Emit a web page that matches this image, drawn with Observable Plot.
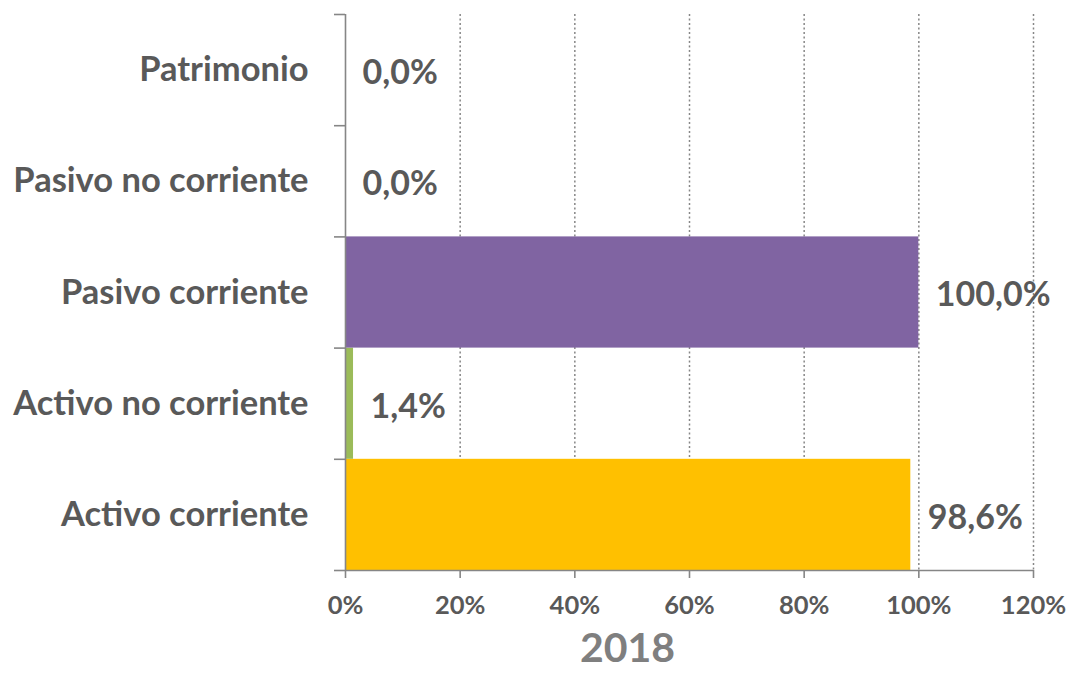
<!DOCTYPE html>
<html>
<head>
<meta charset="utf-8">
<script src="https://cdn.jsdelivr.net/npm/d3@7"></script>
<script src="https://cdn.jsdelivr.net/npm/@observablehq/plot@0.6"></script>
<style>
  html, body { margin: 0; padding: 0; background: #ffffff; }
  #chart { width: 1071px; height: 675px; }
</style>
</head>
<body>
<div id="chart"></div>
<script>
// Categories listed bottom to top
const categories = ["Activo corriente", "Activo no corriente", "Pasivo corriente", "Pasivo no corriente", "Patrimonio"];
const values = [98.6, 1.4, 100.0, 0.0, 0.0];
const barColors = ["#FFC000", "#9BBB59", "#8064A2", "#8064A2", "#8064A2"];
const xTicks = [0, 20, 40, 60, 80, 100, 120];
const yearLabel = "2018";

const data = categories.map((c, i) => ({category: c, index: i, value: values[i], color: barColors[i]}));
const boundaries = d3.range(0, categories.length + 1);
const centers = data.map(d => d.index + 0.5);

const textColor = "#595959";
const axisColor = "#868686";

const chart = Plot.plot({
  width: 1071,
  height: 675,
  marginLeft: 345,
  marginRight: 38,
  marginTop: 14,
  marginBottom: 105,
  x: {domain: [0, 120]},
  y: {domain: [0, categories.length]},
  color: {type: "identity"},
  style: {fontFamily: "Lato, sans-serif", fontWeight: "bold", background: "#ffffff", color: textColor},
  marks: [
    Plot.ruleX(xTicks.slice(1), {stroke: axisColor, strokeDasharray: "2,2.5", strokeWidth: 1.5}),
    Plot.rectX(data, {x1: 0, x2: "value", y1: "index", y2: d => d.index + 1, fill: "color"}),
    Plot.ruleX([0], {stroke: axisColor, strokeWidth: 1.6}),
    Plot.ruleY([0], {stroke: axisColor, strokeWidth: 1.6}),
    Plot.axisY(boundaries, {tickSize: 11, tickFormat: () => "", stroke: axisColor, strokeWidth: 1.6, label: null}),
    Plot.axisY(centers, {tickSize: 0, tickPadding: 37, tickFormat: v => categories[Math.floor(v)], fontSize: 34.5, fill: textColor, label: null}),
    Plot.axisX(xTicks, {tickSize: 8, tickPadding: 17, tickFormat: d => d + "%", fontSize: 25.5, stroke: axisColor, strokeWidth: 1.6, fill: textColor, label: null}),
    Plot.text(data, {x: "value", y: d => d.index + 0.5, text: d => d.value.toFixed(1).replace(".", ",") + "%", textAnchor: "start", dx: 17, dy: 3, fontSize: 34, fill: textColor}),
    Plot.text([yearLabel], {frameAnchor: "bottom", lineAnchor: "middle", dx: -62, dy: 78, fontSize: 41, fill: "#7f7f7f"})
  ]
});
document.getElementById("chart").appendChild(chart);
</script>
</body>
</html>
